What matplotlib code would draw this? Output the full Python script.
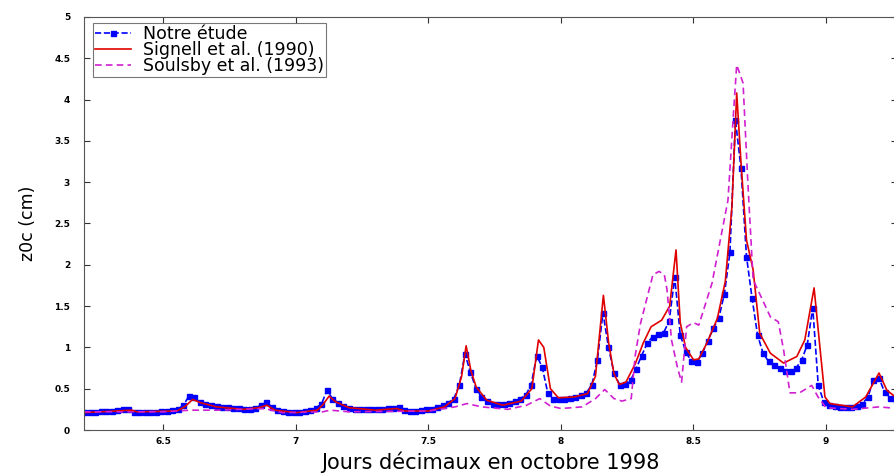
import matplotlib
matplotlib.use("Agg")
import matplotlib.pyplot as plt
import numpy as np

plt.rcParams["font.family"] = ["DejaVu Sans"]

# Notre etude: half-hourly values starting at day 6.2
t_start = 6.2
dt = 1.0 / 48
z_notre = [
    0.22, 0.22, 0.22, 0.23, 0.23, 0.23, 0.24, 0.25, 0.26, 0.22,
    0.22, 0.22, 0.22, 0.22, 0.23, 0.23, 0.24, 0.25, 0.30, 0.41,
    0.40, 0.34, 0.31, 0.30, 0.29, 0.28, 0.28, 0.27, 0.27, 0.26,
    0.26, 0.27, 0.30, 0.34, 0.28, 0.24, 0.23, 0.22, 0.22, 0.22,
    0.23, 0.24, 0.27, 0.31, 0.48, 0.38, 0.33, 0.29, 0.27, 0.26,
    0.25, 0.25, 0.25, 0.26, 0.26, 0.27, 0.27, 0.28, 0.24, 0.23,
    0.23, 0.24, 0.25, 0.26, 0.28, 0.30, 0.33, 0.38, 0.55, 0.92,
    0.70, 0.50, 0.40, 0.35, 0.32, 0.31, 0.31, 0.33, 0.35, 0.38,
    0.42, 0.55, 0.90, 0.76, 0.45, 0.38, 0.37, 0.38, 0.39, 0.40,
    0.42, 0.45, 0.55, 0.85, 1.42, 1.00, 0.69, 0.55, 0.56, 0.60,
    0.74, 0.90, 1.05, 1.13, 1.16, 1.18, 1.32, 1.85, 1.15, 0.95,
    0.83, 0.82, 0.93, 1.08, 1.23, 1.36, 1.65, 2.15, 3.75, 3.17,
    2.10, 1.60, 1.15, 0.93, 0.83, 0.79, 0.75, 0.71, 0.71, 0.75,
    0.85, 1.03, 1.48, 0.54, 0.34, 0.30, 0.29, 0.28, 0.28, 0.28,
    0.29, 0.32, 0.40, 0.61, 0.63, 0.46, 0.39, 0.36,
]
t_notre = t_start + dt * np.arange(len(z_notre))

# Signell et al. (1990)
t_signell = [
    6.2, 6.38, 6.4, 6.55, 6.58, 6.61, 6.64, 6.7, 6.8, 6.86, 6.89, 6.92,
    7.0, 7.08, 7.1, 7.125, 7.15, 7.2, 7.3, 7.38, 7.41, 7.5, 7.56, 7.6,
    7.625, 7.642, 7.66, 7.68, 7.72, 7.78, 7.85, 7.89, 7.915, 7.935, 7.96,
    7.99, 8.05, 8.1, 8.13, 8.16, 8.18, 8.2, 8.22, 8.245, 8.28, 8.31, 8.34,
    8.38, 8.41, 8.434, 8.45, 8.47, 8.5, 8.52, 8.55, 8.59, 8.62, 8.645,
    8.663, 8.68, 8.70, 8.725, 8.75, 8.79, 8.84, 8.89, 8.92, 8.955, 8.978,
    8.996, 9.015, 9.1, 9.15, 9.2, 9.23, 9.27,
]
z_signell = [
    0.21, 0.24, 0.22, 0.23, 0.28, 0.37, 0.33, 0.28, 0.25, 0.27, 0.30, 0.24,
    0.21, 0.24, 0.30, 0.41, 0.34, 0.27, 0.24, 0.26, 0.23, 0.23, 0.28, 0.38,
    0.65, 1.02, 0.72, 0.52, 0.36, 0.30, 0.35, 0.50, 1.09, 1.00, 0.50,
    0.39, 0.40, 0.44, 0.65, 1.63, 1.05, 0.68, 0.55, 0.58, 0.80, 1.05, 1.25,
    1.33, 1.50, 2.18, 1.30, 1.00, 0.85, 0.86, 1.05, 1.35, 1.80, 2.70,
    4.08, 3.20, 2.30, 1.94, 1.17, 0.93, 0.81, 0.89, 1.09, 1.72, 0.97,
    0.40, 0.32, 0.28, 0.40, 0.69, 0.48, 0.38,
]

# Soulsby et al. (1993)
t_soulsby = [
    6.2, 6.5, 6.6, 6.7, 6.88, 6.95, 7.1, 7.13, 7.2, 7.5, 7.6, 7.645, 7.7,
    7.8, 7.87, 7.92, 7.96, 8.0, 8.08, 8.13, 8.165, 8.2, 8.23, 8.265, 8.28,
    8.30, 8.347, 8.37, 8.39, 8.40, 8.417, 8.44, 8.455, 8.474, 8.5, 8.52,
    8.57, 8.63, 8.65, 8.663, 8.687, 8.705, 8.725, 8.79, 8.82, 8.84, 8.864,
    8.90, 8.946, 8.97, 9.0, 9.1, 9.2, 9.27,
]
z_soulsby = [
    0.22, 0.22, 0.24, 0.24, 0.26, 0.21, 0.22, 0.24, 0.22, 0.23, 0.28, 0.32, 0.28,
    0.25, 0.30, 0.38, 0.29, 0.26, 0.28, 0.38, 0.49, 0.38, 0.35, 0.38, 0.90,
    1.29, 1.88, 1.92, 1.88, 1.70, 1.09, 0.75, 0.58, 1.25, 1.30, 1.27,
    1.78, 2.78, 3.79, 4.42, 4.20, 3.00, 1.82, 1.37, 1.31, 0.97, 0.45,
    0.45, 0.54, 0.40, 0.27, 0.25, 0.28, 0.26,
]

x_ticks = [6.5, 7, 7.5, 8, 8.5, 9]
x_tick_labels = ["6.5", "7", "7.5", "8", "8.5", "9"]
y_ticks = [0, 0.5, 1, 1.5, 2, 2.5, 3, 3.5, 4, 4.5, 5]
y_tick_labels = ["0", "0.5", "1", "1.5", "2", "2.5", "3", "3.5", "4", "4.5", "5"]

fig = plt.figure(figsize=(8.95, 4.73), dpi=100)
ax = fig.add_axes([84 / 895, 43 / 473, 813 / 895, 413 / 473])

ax.plot(t_notre, z_notre, color="#0000ff", linestyle="--", linewidth=1.2,
        marker="s", markersize=3.6, label="Notre étude")
ax.plot(t_signell, z_signell, color="#e00000", linestyle="-", linewidth=1.2,
        label="Signell et al. (1990)")
ax.plot(t_soulsby, z_soulsby, color="#d020d0", linestyle="--", linewidth=1.2,
        dashes=(4, 2.5), label="Soulsby et al. (1993)")

ax.set_xlim(6.2, 6.2 + 813 / 265)
ax.set_ylim(0, 5)
ax.set_xticks(x_ticks)
ax.set_xticklabels(x_tick_labels)
ax.set_yticks(y_ticks)
ax.set_yticklabels(y_tick_labels)
ax.tick_params(direction="in", length=4, width=0.8, colors="#333333",
               labelsize=6.5, top=True, right=True)
ax.tick_params(axis="x", pad=5)
ax.tick_params(axis="y", pad=10)
for lab in ax.get_xticklabels() + ax.get_yticklabels():
    lab.set_color("black")
    lab.set_fontweight("bold")
for sp in ax.spines.values():
    sp.set_color("#555555")
    sp.set_linewidth(0.8)

ax.set_xlabel("Jours décimaux en octobre 1998", fontsize=15, labelpad=4)
ax.set_ylabel("z0c (cm)", fontsize=12.5, labelpad=12)

leg = ax.legend(loc="upper left", bbox_to_anchor=(9 / 813, 1 - 6 / 413),
                fontsize=12.5, frameon=True, fancybox=False, borderpad=0.1,
                handlelength=2.1, handletextpad=0.7, labelspacing=-0.1,
                borderaxespad=0)
leg.get_frame().set_edgecolor("#555555")
leg.get_frame().set_linewidth(0.8)

fig.savefig("out.png", dpi=100)
